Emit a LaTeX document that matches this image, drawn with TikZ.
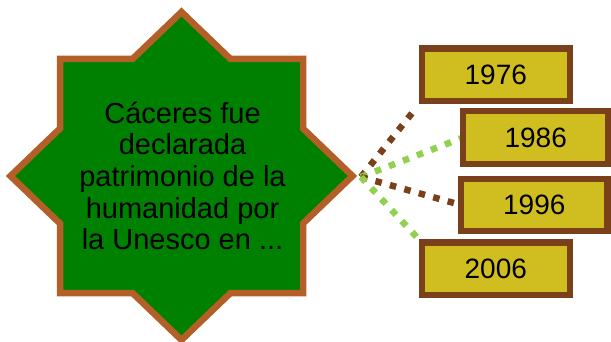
\documentclass[tikz,border=0pt]{standalone}
\usepackage{fontspec}
\setmainfont{Liberation Sans}
\definecolor{starfill}{RGB}{0,128,0}
\definecolor{starline}{RGB}{180,95,40}
\definecolor{boxfill}{RGB}{208,190,32}
\definecolor{boxline}{RGB}{122,64,26}
\definecolor{dotgreen}{RGB}{146,208,80}
\definecolor{dotbrown}{RGB}{122,64,26}
\pgfdeclarelayer{starlayer}
\pgfdeclarelayer{linklayer}
\pgfsetlayers{starlayer,linklayer,main}
\tikzset{
  starshape/.style={fill=starfill, draw=starline, line width=6.5pt, line join=miter},
  yearbox/.style={draw=boxline, fill=boxfill, line width=6.5pt, inner sep=0pt, outer sep=0pt,
    minimum width=148pt, minimum height=52.5pt, font=\fontsize{28}{32}\selectfont},
  dotline/.style={line width=6.5pt, dash pattern=on 6.5pt off 8.5pt},
}
\begin{document}
\begin{tikzpicture}[x=1pt,y=-1pt]
\useasboundingbox (0,0) rectangle (611,342);
\begin{pgfonlayer}{starlayer}
\draw[starshape] (181.5,12) -- (230.5,59) -- (303,59) -- (303,128.5) -- (352.5,176)
  -- (303,223.5) -- (303,293) -- (230.5,293) -- (181.5,340) -- (132.5,293)
  -- (60,293) -- (60,223.5) -- (10.5,176) -- (60,128.5) -- (60,59) -- (132.5,59) -- cycle;
\end{pgfonlayer}
\node[align=center, font=\fontsize{29}{31.7}\selectfont, inner sep=0pt] (star) at (182.5,176)
  {Cáceres fue\\declarada\\patrimonio de la\\humanidad por\\la Unesco en ...};
\coordinate (src) at (361,177);
\node[yearbox] (y1976) at (495.8,74.7) {1976};
\node[yearbox, minimum width=145pt, minimum height=53pt] (y1986) at (535.7,137.5) {1986};
\node[yearbox, minimum width=146.5pt, minimum height=52pt] (y1996) at (534.3,205) {1996};
\node[yearbox] (y2006) at (495.8,268.8) {2006};
\begin{pgfonlayer}{linklayer}
\draw[dotline, dotbrown, shorten >=8pt] (src) -- (y1976.south west);
\draw[dotline, dotgreen] (src) -- (y1986.west);
\draw[dotline, dotbrown] (src) -- (y1996.west);
\draw[dotline, dotgreen] (src) -- (y2006.north west);
\end{pgfonlayer}
\end{tikzpicture}
\end{document}
